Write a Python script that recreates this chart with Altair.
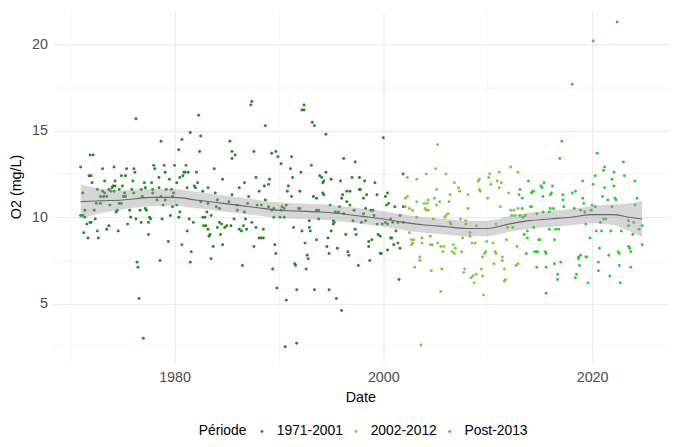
import altair as alt
import pandas as pd

# Période 1971-2001 (année décimale, O2 mg/L)
annee_p1 = [
    1976.3, 1978.7, 1971.9, 1972.2, 1971.0, 1973.1, 1974.2, 1975.4, 1976.1, 1976.2,
    1978.0, 1978.1, 1979.0, 1979.1, 1971.8, 1972.0, 1974.9, 1975.3, 1972.1, 1973.3,
    1974.3, 1976.0, 1977.1, 1977.8, 1978.5, 1979.5, 1971.2, 1972.6, 1973.1, 1973.3,
    1973.7, 1973.9, 1974.0, 1974.1, 1974.3, 1974.2, 1974.7, 1975.0, 1975.2, 1975.9,
    1976.1, 1976.8, 1977.2, 1977.9, 1977.9, 1978.5, 1979.2, 1979.7, 1972.9, 1973.2,
    1973.5, 1972.5, 1972.9, 1975.1, 1975.3, 1974.7, 1974.9, 1976.9, 1978.3, 1978.7,
    1979.1, 1979.8, 1973.8, 1978.9, 1971.4, 1972.3, 1974.5, 1974.4, 1975.7, 1976.7,
    1977.2, 1977.3, 1971.0, 1971.2, 1971.4, 1975.8, 1976.3, 1977.6, 1977.7, 1979.6,
    1978.8, 1972.4, 1971.9, 1972.0, 1971.6, 1975.5, 1976.8, 1977.5, 1973.7, 1973.5,
    1971.3, 1972.6, 1974.6, 1977.5, 1971.7, 1972.7, 1979.4, 1978.6, 1976.4, 1976.5,
    1976.6, 1977.0,
    1987.4, 1987.3, 1982.3, 1988.7, 1981.5, 1982.5, 1980.7, 1985.3, 1980.4, 1982.4,
    1985.5, 1985.8, 1985.5, 1987.6, 1980.0, 1981.1, 1980.9, 1981.0, 1981.3, 1982.1,
    1983.8, 1980.8, 1980.5, 1980.2, 1984.6, 1987.8, 1986.7, 1982.2, 1981.9, 1982.0,
    1981.2, 1983.2, 1986.2, 1988.6, 1988.1, 1982.7, 1983.9, 1985.5, 1987.1, 1979.9,
    1984.1, 1982.5, 1983.2, 1985.2, 1986.0, 1987.0, 1987.9, 1988.3, 1988.7, 1984.0,
    1984.3, 1980.2, 1979.8, 1986.0, 1986.7, 1980.5, 1983.1, 1983.5, 1982.9, 1982.7,
    1980.4, 1985.7, 1986.8, 1987.4, 1981.4, 1981.8, 1984.3, 1984.5, 1982.8, 1983.0,
    1983.2, 1984.1, 1984.8, 1985.0, 1985.4, 1986.6, 1986.2, 1986.4, 1986.9, 1987.8,
    1988.5, 1988.1, 1988.3, 1988.5, 1981.2, 1983.4, 1983.3, 1984.4, 1980.7, 1983.7,
    1984.6, 1987.6, 1981.6, 1983.5, 1981.5, 1986.5,
    1992.4, 1992.2, 1992.4, 1993.2, 1993.4, 1994.5, 1989.3, 1989.7, 1989.9, 1991.2,
    1990.2, 1993.1, 1996.2, 1997.3, 1991.1, 1992.1, 1994.5, 1993.9, 1994.1, 1994.3,
    1994.2, 1995.0, 1995.9, 1997.0, 1997.7, 1991.3, 1989.1, 1989.0, 1990.9, 1990.8,
    1992.0, 1996.5, 1996.8, 1997.7, 1994.2, 1994.3, 1996.1, 1996.0, 1993.3, 1993.6,
    1991.2, 1996.5, 1996.8, 1990.7, 1990.3, 1990.5, 1990.2, 1994.9, 1995.8, 1997.2,
    1991.9, 1992.0, 1989.3, 1989.5, 1989.0, 1993.6, 1993.8, 1995.4, 1995.7, 1996.2,
    1989.5, 1990.1, 1990.5, 1993.8, 1992.9, 1995.2, 1995.3, 1995.2, 1997.1, 1991.4,
    1992.9, 1993.0, 1992.2, 1995.0, 1997.3, 1997.4, 1996.4, 1994.7, 1993.6, 1992.5,
    1989.6, 1994.6, 1995.6, 1996.6, 1996.7, 1994.8, 1989.7, 1992.7, 1992.8, 1997.6,
    1991.5, 1991.6, 1989.4, 1992.6, 1989.8, 1991.7, 1993.4, 1994.8, 1990.7, 1995.5,
    1996.0, 1990.6, 1991.7,
    2000.0, 1998.2, 1999.2, 2001.9, 1997.8, 1998.4, 1998.1, 1999.4, 2000.4, 2000.2,
    2000.5, 2000.3, 2001.1, 2001.9, 1998.3, 1998.8, 1999.0, 1998.1, 1999.1, 2000.7,
    2001.6, 1998.3, 1997.9, 1999.4, 1999.9, 2000.2, 2000.4, 2000.9, 2001.4, 2001.9,
    1999.5, 1999.7, 2000.7, 2000.8, 1998.9, 1998.6, 2001.2, 2001.4, 2001.0, 1998.6,
    2000.4, 2001.6, 1999.7, 1999.8, 1998.7, 2001.5,
]
o2_p1 = [
    15.7, 14.4, 13.6, 13.6, 12.9, 12.8, 12.9, 12.8, 12.8, 12.6,
    13.0, 12.8, 13.0, 12.6, 12.4, 12.4, 12.4, 12.4, 12.0, 12.1,
    12.1, 12.1, 12.0, 12.0, 12.3, 12.2, 11.4, 11.6, 11.5, 11.4,
    11.6, 11.5, 11.7, 11.8, 11.8, 11.5, 11.6, 11.8, 11.4, 11.6,
    11.4, 11.6, 11.7, 11.6, 11.4, 11.7, 11.6, 11.6, 11.2, 11.2,
    11.2, 10.8, 10.8, 11.2, 11.2, 10.8, 10.8, 11.2, 11.0, 11.2,
    11.0, 11.2, 10.7, 10.7, 10.4, 10.4, 10.4, 10.3, 10.4, 10.4,
    10.5, 10.4, 10.1, 10.1, 10.0, 10.0, 9.9, 10.0, 9.9, 10.1,
    9.9, 9.9, 9.7, 9.7, 9.6, 9.6, 9.7, 9.7, 9.5, 9.3,
    9.1, 9.2, 9.2, 9.0, 8.8, 8.8, 8.6, 7.5, 7.4, 7.1,
    5.3, 3.0,
    16.7, 16.5, 15.9, 15.3, 14.9, 14.7, 14.5, 14.4, 13.9, 13.8,
    13.8, 13.6, 13.4, 13.8, 13.0, 13.0, 12.6, 12.6, 12.6, 12.6,
    12.8, 12.4, 12.3, 12.0, 12.2, 12.3, 12.0, 12.0, 11.8, 11.7,
    11.7, 11.7, 11.7, 11.8, 11.5, 11.5, 11.4, 11.3, 11.2, 11.4,
    11.0, 10.9, 10.8, 10.9, 10.7, 10.8, 10.7, 10.7, 11.0, 10.6,
    10.5, 10.7, 10.6, 10.4, 10.3, 10.3, 10.3, 10.1, 10.0, 10.0,
    10.0, 9.9, 9.9, 9.7, 9.9, 9.7, 9.7, 9.6, 9.5, 9.5,
    9.3, 9.4, 9.4, 9.5, 9.5, 9.5, 9.3, 9.2, 9.3, 9.4,
    9.3, 8.8, 8.8, 8.8, 9.2, 9.0, 8.9, 9.0, 8.4, 8.3,
    8.4, 8.3, 8.0, 7.6, 7.4, 7.2,
    16.5, 16.2, 16.2, 15.5, 15.3, 14.8, 13.7, 13.8, 13.5, 13.5,
    13.1, 13.0, 13.4, 13.2, 12.8, 12.6, 12.6, 12.4, 12.3, 12.1,
    12.0, 12.2, 12.1, 12.3, 12.3, 12.3, 12.2, 11.9, 11.8, 11.5,
    11.5, 11.5, 11.5, 11.6, 11.4, 11.3, 11.3, 11.1, 11.2, 11.1,
    11.2, 10.9, 10.7, 10.7, 10.6, 10.5, 10.4, 10.7, 10.6, 10.4,
    10.5, 10.5, 10.4, 10.5, 10.6, 10.4, 10.4, 10.3, 10.3, 10.2,
    10.0, 10.0, 10.0, 9.9, 9.8, 9.8, 9.7, 9.6, 9.8, 9.4,
    9.4, 9.2, 9.2, 9.2, 9.3, 9.0, 9.0, 8.8, 8.7, 8.5,
    8.4, 8.3, 8.2, 8.0, 7.8, 7.9, 7.9, 7.8, 7.6, 7.2,
    7.3, 7.2, 7.0, 7.0, 5.9, 5.8, 5.8, 5.8, 5.2, 5.3,
    4.6, 2.5, 2.7,
    14.6, 12.1, 12.0, 12.5, 11.6, 11.3, 11.1, 11.3, 11.4, 11.2,
    10.8, 10.7, 10.6, 10.6, 10.5, 10.4, 10.4, 10.2, 10.1, 9.9,
    10.1, 9.8, 9.7, 9.6, 9.6, 9.7, 9.6, 9.7, 9.7, 9.7,
    9.0, 8.9, 8.8, 8.8, 8.7, 8.6, 9.2, 8.5, 8.4, 8.3,
    8.1, 8.2, 7.9, 7.9, 7.5, 6.4,
]

# Période 2002-2012
annee_p2 = [
    2005.2, 2002.3, 2003.2, 2004.1, 2005.0, 2006.0, 2006.8, 2007.2, 2007.3, 2005.1,
    2008.1, 2009.1, 2009.2, 2009.2, 2009.3, 2010.2, 2010.1, 2010.3, 2011.1, 2010.9,
    2011.3, 2011.1, 2012.2, 2012.0, 2010.0, 2002.1, 2002.3, 2004.3, 2004.9, 2003.2,
    2003.9, 2004.2, 2005.4, 2005.1, 2006.3, 2006.4, 2002.1, 2002.5, 2002.8, 2004.0,
    2004.1, 2004.3, 2008.1, 2011.2, 2012.2, 2012.5, 2012.3, 2012.6, 2003.2, 2004.8,
    2005.9, 2006.0, 2006.2, 2006.4, 2006.5, 2007.4, 2007.9, 2007.9, 2008.9, 2010.8,
    2011.9, 2012.4, 2002.5, 2004.5, 2003.7, 2002.7, 2002.9, 2007.6, 2008.3, 2008.3,
    2002.7, 2002.8, 2003.7, 2004.5, 2004.7, 2005.2, 2005.5, 2005.8, 2006.7, 2006.9,
    2008.5, 2008.8, 2009.9, 2010.5, 2012.8, 2011.8, 2005.7, 2006.6, 2006.8, 2007.5,
    2009.7, 2009.8, 2009.5, 2010.7, 2010.8, 2011.4, 2011.4, 2003.5, 2003.5, 2003.0,
    2010.6, 2012.7, 2012.9, 2004.6, 2005.6, 2007.8, 2007.7, 2008.4, 2008.6, 2008.9,
    2009.4, 2009.5, 2008.7, 2011.6, 2011.7, 2011.6, 2009.6, 2005.5, 2003.6, 2012.9,
    2012.9,
]
o2_p2 = [
    14.2, 12.3, 12.2, 12.5, 12.8, 12.5, 12.0, 11.7, 11.5, 11.6,
    11.3, 12.1, 12.2, 11.6, 11.5, 12.5, 12.3, 11.9, 12.6, 12.1,
    12.0, 11.7, 12.9, 11.4, 11.1, 11.1, 11.2, 11.0, 11.1, 10.9,
    10.8, 10.8, 10.9, 10.7, 10.9, 11.3, 10.6, 10.5, 10.4, 10.5,
    10.4, 10.4, 10.5, 10.6, 10.4, 10.4, 10.1, 10.1, 10.0, 9.9,
    10.0, 10.1, 10.2, 9.7, 9.6, 9.9, 9.8, 9.6, 9.5, 9.6,
    9.4, 9.4, 9.1, 8.9, 8.8, 8.7, 8.7, 8.8, 9.1, 8.9,
    8.4, 8.5, 8.5, 8.4, 8.4, 8.5, 8.3, 8.3, 8.4, 8.2,
    8.5, 8.5, 8.6, 8.5, 8.3, 8.7, 8.0, 8.0, 7.9, 8.0,
    7.9, 8.0, 7.7, 8.0, 7.9, 7.7, 7.5, 7.7, 7.5, 7.1,
    7.3, 7.2, 7.3, 6.9, 7.0, 7.0, 6.8, 6.5, 6.6, 6.7,
    7.0, 6.6, 6.2, 7.0, 6.4, 6.3, 5.5, 5.7, 2.6, 12.6,
    10.5,
]

# Période Post-2013
annee_p3 = [
    2013.3, 2013.1, 2013.4, 2014.1, 2013.9, 2013.1, 2013.0, 2013.3, 2014.3, 2014.2,
    2014.4, 2015.1, 2015.2, 2015.3, 2014.2, 2013.6, 2013.8, 2013.8, 2013.5, 2014.4,
    2015.0, 2013.7, 2014.7, 2014.8, 2014.7,
    2022.4, 2020.1, 2018.1, 2017.1, 2016.9, 2020.5, 2023.0, 2021.2, 2021.1, 2022.1,
    2023.1, 2020.3, 2019.1, 2021.9, 2022.1, 2024.1, 2020.1, 2021.2, 2015.4, 2016.2,
    2016.1, 2016.0, 2017.2, 2018.1, 2018.4, 2017.2, 2019.1, 2021.0, 2021.5, 2022.2,
    2022.3, 2024.3, 2019.2, 2019.3, 2020.0, 2020.3, 2021.9, 2024.1, 2016.0, 2016.3,
    2017.3, 2018.3, 2018.9, 2019.9, 2014.7, 2015.3, 2015.9, 2021.1, 2021.3, 2020.8,
    2019.4, 2023.5, 2024.0, 2023.5, 2024.8, 2015.9, 2016.5, 2016.8, 2020.4, 2020.9,
    2021.8, 2022.8, 2024.5, 2023.9, 2019.8, 2014.9, 2016.4, 2020.7, 2023.5, 2023.6,
    2023.7, 2024.8, 2022.5, 2022.6, 2021.6, 2018.9, 2018.7, 2018.7, 2019.4, 2019.5,
    2014.5, 2015.5, 2015.6, 2017.0, 2016.4, 2018.8, 2015.6, 2020.6, 2022.6, 2023.7,
    2016.7, 2016.7, 2018.5, 2018.4, 2020.6, 2021.7, 2019.6, 2022.7, 2015.6,
]
o2_p3 = [
    10.5, 10.1, 10.0, 10.6, 12.1, 11.6, 11.3, 11.1, 11.5, 11.4,
    11.5, 11.8, 11.7, 11.2, 10.6, 10.1, 9.2, 8.8, 9.0, 9.4,
    8.7, 7.9, 8.0, 8.0, 7.1,
    21.3, 20.2, 17.7, 14.4, 13.4, 13.7, 13.2, 12.9, 12.7, 12.6,
    12.4, 12.4, 12.1, 12.2, 11.8, 12.1, 11.9, 11.7, 12.0, 11.8,
    11.4, 11.3, 11.3, 11.4, 11.5, 11.0, 11.1, 11.2, 11.0, 11.1,
    11.0, 11.1, 10.8, 10.3, 10.7, 10.6, 10.6, 10.7, 10.5, 10.5,
    10.6, 10.5, 10.4, 10.4, 10.2, 10.3, 10.3, 9.9, 9.9, 9.7,
    9.6, 9.8, 9.7, 9.5, 9.5, 9.3, 9.3, 9.3, 9.2, 9.2,
    9.2, 9.2, 9.3, 9.0, 8.8, 8.7, 8.7, 8.2, 8.3, 8.2,
    8.0, 8.4, 8.0, 7.9, 7.8, 7.8, 7.7, 7.6, 7.7, 7.7,
    8.0, 8.0, 7.9, 7.4, 7.3, 7.2, 7.1, 7.4, 7.2, 7.1,
    6.7, 6.4, 6.7, 6.5, 6.9, 6.6, 6.2, 6.2, 5.6,
]

# Courbe lissée (loess) et intervalle de confiance
lisse_annee = [1971.0, 1973.0, 1975.0, 1978.0, 1980.0, 1982.0, 1984.0, 1986.0, 1988.0,
               1990.0, 1992.0, 1994.0, 1996.0, 1998.0, 2000.0, 2002.0, 2004.0, 2006.0,
               2008.0, 2010.0, 2012.0, 2014.0, 2016.0, 2018.0, 2020.0, 2022.0, 2023.5,
               2024.8]
lisse_o2 = [10.9, 10.95, 11.0, 11.15, 11.15, 11.0, 10.85, 10.7, 10.55,
            10.4, 10.35, 10.3, 10.2, 10.05, 9.9, 9.7, 9.55, 9.45,
            9.35, 9.35, 9.6, 9.8, 9.9, 10.0, 10.15, 10.15, 10.0,
            9.9]
lisse_marge = [1.0, 0.7, 0.55, 0.5, 0.48, 0.47, 0.47, 0.47, 0.45,
               0.45, 0.45, 0.45, 0.45, 0.45, 0.45, 0.45, 0.45, 0.45,
               0.45, 0.45, 0.45, 0.47, 0.47, 0.47, 0.5, 0.6, 0.8,
               1.05]

periodes = ["1971-2001", "2002-2012", "Post-2013"]
couleurs = ["#228B22", "#7CCD3C", "#32CD32"]

points = pd.concat([
    pd.DataFrame({"Date": annee_p1, "O2": o2_p1, "Période": periodes[0]}),
    pd.DataFrame({"Date": annee_p2, "O2": o2_p2, "Période": periodes[1]}),
    pd.DataFrame({"Date": annee_p3, "O2": o2_p3, "Période": periodes[2]}),
])
lisse = pd.DataFrame({
    "Date": lisse_annee,
    "O2": lisse_o2,
    "bas": [m - e for m, e in zip(lisse_o2, lisse_marge)],
    "haut": [m + e for m, e in zip(lisse_o2, lisse_marge)],
})

x_scale = alt.Scale(domain=[1968.3, 2027.28], nice=False, zero=False)
y_scale = alt.Scale(domain=[1.6, 21.96], nice=False, zero=False)

x_axis = alt.Axis(
    values=[1970, 1980, 1990, 2000, 2010, 2020],
    labelExpr="datum.value % 20 === 0 ? datum.label : ''",
    format="d", labelFlush=False, labelOverlap=False,
    domain=False, ticks=False, tickSize=0, labelPadding=8,
    labelFontSize=14.5, labelColor="#4D4D4D",
    gridColor="#EBEBEB",
    gridWidth={"condition": {"test": "datum.value % 20 === 0", "value": 1.1}, "value": 0.55},
    title="Date", titleFontSize=14.5, titleFontWeight="normal", titleColor="black",
    titleX=311.5, titleY=36, titleAlign="center", titleBaseline="middle",
)
y_axis = alt.Axis(
    values=[2.5, 5, 7.5, 10, 12.5, 15, 17.5, 20],
    labelExpr="datum.value % 5 === 0 ? datum.label : ''",
    labelOverlap=False, labelFlush=False,
    domain=False, ticks=False, tickSize=0, labelPadding=5,
    labelFontSize=14.5, labelColor="#4D4D4D",
    gridColor="#EBEBEB",
    gridWidth={"condition": {"test": "datum.value % 5 === 0", "value": 1.1}, "value": 0.55},
    title="O2 (mg/L)", titleFontSize=14.5, titleFontWeight="normal", titleColor="black",
    titleX=-36, titleY=178, titleAlign="center", titleBaseline="middle",
)

nuage = alt.Chart(points).mark_circle(size=9, opacity=1).encode(
    x=alt.X("Date:Q", scale=x_scale, axis=x_axis),
    y=alt.Y("O2:Q", scale=y_scale, axis=y_axis),
    color=alt.Color(
        "Période:N",
        scale=alt.Scale(domain=periodes, range=couleurs),
        legend=alt.Legend(
            orient="none", legendX=148, legendY=419, direction="horizontal",
            titleOrient="left", title="Période", titleFontSize=14,
            titleFontWeight="normal", titleColor="black", titlePadding=8,
            labelFontSize=14, labelColor="black", labelOffset=8,
            columnPadding=6, symbolType="circle", symbolSize=8,
            symbolStrokeWidth=0,
        ),
    ),
)

bande = alt.Chart(lisse).mark_area(color="#999999", opacity=0.4, interpolate="monotone").encode(
    x=alt.X("Date:Q", scale=x_scale),
    y=alt.Y("bas:Q", scale=y_scale),
    y2="haut:Q",
)

courbe = alt.Chart(lisse).mark_line(color="#666666", strokeWidth=1.1, interpolate="monotone").encode(
    x=alt.X("Date:Q", scale=x_scale),
    y=alt.Y("O2:Q", scale=y_scale),
)

chart = (
    alt.layer(nuage, bande, courbe)
    .properties(
        width=623, height=356,
        autosize=alt.AutoSizeParams(type="none"),
        padding={"left": 45, "top": 0, "right": 7, "bottom": 76},
    )
    .configure(font="Liberation Sans")
    .configure_view(stroke=None)
)

chart.save("out.html", embed_options={"renderer": "svg", "actions": False})
